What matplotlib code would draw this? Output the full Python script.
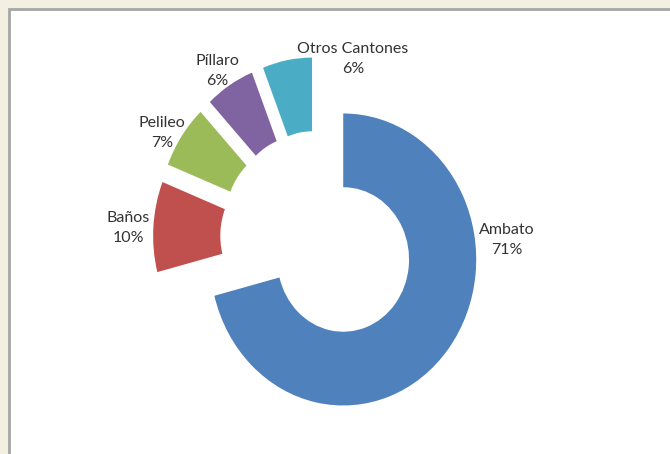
import matplotlib
matplotlib.use("Agg")
import matplotlib.pyplot as plt
from matplotlib.patches import Rectangle

categories = ["Ambato", "Baños", "Pelileo", "Píllaro", "Otros Cantones"]
values = [71, 10, 7, 6, 6]
pct_labels = ["71%", "10%", "7%", "6%", "6%"]
colors = ["#4F81BD", "#C0504D", "#9BBB59", "#8064A2", "#4BACC6"]

plt.rcParams['font.family'] = ['Lato', 'DejaVu Sans']

W, H = 670, 454
fig = plt.figure(figsize=(W / 100, H / 100), dpi=100)
fig.patch.set_facecolor("#F3F0E1")

# background axes: white plot area with grey border
bg = fig.add_axes([0, 0, 1, 1])
bg.set_xlim(0, W)
bg.set_ylim(H, 0)
bg.axis('off')
bg.add_patch(Rectangle((9, 9), W + 20, H + 20, facecolor="white",
                       edgecolor="#A6A6A6", linewidth=2))

ax = fig.add_axes([0, 0, 1, 1])
ax.patch.set_alpha(0)

ax.pie(values, colors=colors, startangle=90, counterclock=False, radius=1.0,
       explode=[0.24] * len(values),
       wedgeprops=dict(width=0.505, linewidth=0))
ax.set_aspect('auto')

# pixel scale: 133 px / unit horizontally, 146 px / unit vertically
cx, cy, sx, sy = 318, 238, 133, 146
ax.set_xlim(-cx / sx, (W - cx) / sx)
ax.set_ylim((cy - H) / sy, cy / sy)
ax.axis('off')

label_px = [(507, 240), (128, 228), (162, 133), (217, 71), (353, 59)]
for name, pct, (px, py) in zip(categories, pct_labels, label_px):
    ax.text((px - cx) / sx, (cy - py) / sy, f"{name}\n{pct}", ha='center', va='center',
            fontsize=11.5, color="#333333", linespacing=1.5)

fig.savefig("out.png", dpi=100, facecolor=fig.get_facecolor())
